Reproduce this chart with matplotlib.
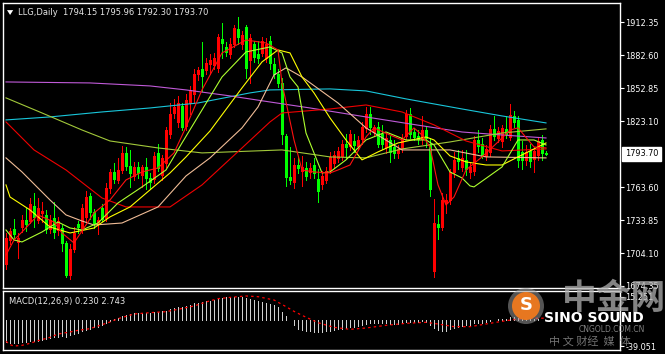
import numpy as np
import matplotlib
matplotlib.use("Agg")
import matplotlib.pyplot as plt
from matplotlib.patches import Circle
import matplotlib.transforms as mtransforms

plt.rcParams['font.family'] = ['DejaVu Sans', 'Noto Sans CJK SC']

# ---------------- data ----------------
opens = [1694, 1716, 1726, 1714, 1728, 1734, 1733, 1747, 1734, 1740,
         1738, 1726, 1736, 1725, 1727, 1713, 1684, 1708, 1730, 1727,
         1737, 1756, 1741, 1730, 1745, 1736, 1763, 1777, 1770, 1779,
         1794, 1783, 1774, 1782, 1775, 1782, 1772, 1771, 1794, 1775,
         1785, 1812, 1831, 1822, 1837, 1819, 1840, 1848, 1866, 1870,
         1869, 1875, 1874, 1871, 1897, 1890, 1884, 1893, 1906, 1893,
         1908, 1878, 1893, 1884, 1885, 1880, 1896, 1875, 1866, 1858,
         1810, 1773, 1768, 1784, 1778, 1781, 1777, 1784, 1771, 1766,
         1770, 1779, 1785, 1790, 1792, 1803, 1801, 1805, 1801, 1807,
         1817, 1830, 1813, 1818, 1812, 1800, 1806, 1800, 1794, 1799,
         1810, 1830, 1813, 1810, 1807, 1815, 1803, 1688, 1730, 1728,
         1749, 1752, 1777, 1790, 1782, 1788, 1777, 1778, 1806, 1803,
         1792, 1795, 1816, 1808, 1805, 1816, 1809, 1828, 1824, 1795,
         1788, 1796, 1789, 1793, 1806, 1794.15]
highs = [1722, 1727, 1735, 1722, 1738, 1745, 1754, 1758, 1754, 1750,
         1743, 1738, 1750, 1737, 1729, 1715, 1712, 1728, 1733, 1748,
         1760, 1758, 1744, 1737, 1748, 1767, 1780, 1785, 1790, 1801,
         1800, 1797, 1786, 1786, 1784, 1790, 1776, 1795, 1803, 1793,
         1818, 1840, 1843, 1846, 1840, 1848, 1855, 1870, 1872, 1895,
         1880, 1884, 1885, 1902, 1912, 1895, 1898, 1910, 1917, 1905,
         1910, 1902, 1896, 1896, 1899, 1898, 1900, 1880, 1870, 1862,
         1812, 1800, 1790, 1791, 1792, 1786, 1785, 1790, 1780, 1778,
         1782, 1795, 1796, 1800, 1806, 1812, 1815, 1812, 1810, 1822,
         1836, 1836, 1820, 1822, 1820, 1812, 1810, 1806, 1802, 1812,
         1833, 1835, 1817, 1815, 1828, 1818, 1808, 1753, 1738, 1758,
         1757, 1780, 1795, 1797, 1797, 1797, 1786, 1810, 1815, 1808,
         1802, 1820, 1828, 1818, 1820, 1828, 1839, 1832, 1828, 1805,
         1802, 1803, 1800, 1808, 1811, 1795.96]
lows = [1690, 1712, 1716, 1700, 1723, 1724, 1731, 1728, 1731, 1732,
        1722, 1722, 1718, 1720, 1706, 1682, 1681, 1705, 1722, 1722,
        1733, 1735, 1727, 1721, 1733, 1733, 1758, 1767, 1767, 1776,
        1779, 1764, 1770, 1772, 1764, 1762, 1763, 1767, 1778, 1770,
        1782, 1808, 1826, 1818, 1815, 1815, 1830, 1840, 1860, 1850,
        1866, 1866, 1870, 1868, 1880, 1882, 1880, 1890, 1893, 1888,
        1862, 1858, 1877, 1876, 1882, 1877, 1870, 1862, 1854, 1803,
        1765, 1766, 1763, 1776, 1765, 1770, 1772, 1772, 1750, 1762,
        1767, 1776, 1781, 1786, 1788, 1790, 1797, 1795, 1797, 1803,
        1813, 1812, 1810, 1800, 1798, 1794, 1786, 1790, 1790, 1795,
        1807, 1808, 1806, 1803, 1803, 1800, 1756, 1682, 1717, 1725,
        1740, 1748, 1773, 1780, 1778, 1775, 1772, 1775, 1795, 1790,
        1788, 1792, 1806, 1804, 1800, 1808, 1806, 1818, 1782, 1780,
        1784, 1782, 1777, 1788, 1788, 1792.30]
closes = [1718, 1724, 1721, 1718, 1734, 1730, 1748, 1737, 1745, 1742,
          1726, 1734, 1723, 1733, 1713, 1684, 1708, 1722, 1728, 1745,
          1755, 1741, 1731, 1734, 1735, 1763, 1777, 1771, 1779, 1794,
          1783, 1776, 1782, 1776, 1782, 1772, 1768, 1792, 1781, 1790,
          1815, 1830, 1836, 1840, 1818, 1842, 1851, 1866, 1869, 1864,
          1876, 1878, 1880, 1899, 1894, 1886, 1893, 1907, 1899, 1901,
          1871, 1898, 1881, 1880, 1896, 1893, 1876, 1866, 1858, 1812,
          1773, 1770, 1784, 1781, 1782, 1774, 1781, 1776, 1760, 1774,
          1778, 1791, 1793, 1796, 1803, 1800, 1812, 1802, 1806, 1818,
          1830, 1818, 1818, 1803, 1803, 1808, 1795, 1794, 1798, 1808,
          1830, 1812, 1809, 1807, 1815, 1808, 1762, 1731, 1728, 1752,
          1752, 1777, 1788, 1787, 1790, 1780, 1782, 1806, 1801, 1792,
          1798, 1816, 1810, 1814, 1817, 1812, 1829, 1822, 1788, 1788,
          1795, 1787, 1796, 1805, 1794, 1793.70]

# moving averages, read at sample bars
ma_cyan_x = [0, 11, 24, 36, 48, 61, 66, 81, 90, 100, 114, 124, 135]
ma_cyan = [1824.3, 1827.0, 1831.5, 1835.1, 1839.6, 1848.7, 1851.4, 1852.3,
           1850.5, 1843.3, 1834.2, 1827.9, 1821.6]
ma_purple_x = [0, 21, 36, 45, 56, 66, 76, 90, 101, 114, 124, 135]
ma_purple = [1858.6, 1857.7, 1855.0, 1851.4, 1846.0, 1840.5, 1835.1, 1827.0,
             1820.7, 1813.4, 1810.7, 1808.0]
ma_olive_x = [0, 9, 19, 26, 38, 49, 69, 81, 90, 99, 111, 124, 135]
ma_olive = [1844.2, 1830.6, 1815.2, 1805.3, 1799.0, 1794.5, 1797.2, 1790.9,
            1790.0, 1798.1, 1804.4, 1812.5, 1816.2]
ma_red_x = [0, 7, 15, 24, 30, 41, 49, 59, 66, 69, 81, 90, 99, 107, 115, 124, 135]
ma_red = [1822.5, 1797.2, 1779.1, 1753.8, 1745.7, 1745.7, 1765.6, 1799.0,
          1822.5, 1830.6, 1834.2, 1837.8, 1831.5, 1819.8, 1805.3, 1796.3, 1798.1]
ma_tan_x = [0, 4, 11, 15, 19, 22, 29, 38, 45, 51, 59, 63, 67, 70, 74, 83, 90,
            99, 111, 120, 135]
ma_tan = [1790.0, 1777.3, 1752.0, 1738.5, 1733.0, 1729.4, 1731.2, 1745.7,
          1773.7, 1790.0, 1817.1, 1836.0, 1864.9, 1871.3, 1863.1, 1839.6,
          1817.1, 1797.2, 1797.2, 1790.9, 1790.0]
ma_yellow_x = [0, 1, 6, 11, 16, 22, 26, 31, 36, 41, 45, 51, 59, 64, 68, 71, 74,
               77, 81, 85, 89, 93, 98, 105, 107, 111, 115, 120, 124, 128, 135]
ma_yellow = [1765.6, 1754.7, 1743.0, 1727.6, 1722.2, 1726.7, 1736.7, 1745.7,
             1761.1, 1776.4, 1790.9, 1814.3, 1853.2, 1876.7, 1887.5, 1884.8,
             1863.1, 1848.7, 1826.1, 1806.2, 1788.2, 1795.4, 1803.5, 1808.9,
             1806.2, 1791.8, 1786.4, 1783.6, 1783.6, 1790.9, 1803.5]
ma_lime_x = [0, 2, 4, 9, 13, 16, 19, 23, 28, 34, 40, 44, 49, 54, 60, 66, 69,
             71, 73, 75, 79, 81, 85, 90, 95, 100, 105, 107, 111, 114, 116, 117,
             124, 128, 132, 135]
ma_lime = [1724.9, 1715.9, 1714.1, 1723.1, 1732.1, 1726.7, 1724.9, 1731.2,
           1749.3, 1763.8, 1779.1, 1803.5, 1833.3, 1863.1, 1885.7, 1890.2,
           1884.8, 1863.1, 1854.1, 1812.5, 1776.4, 1777.3, 1788.2, 1806.2,
           1813.4, 1806.2, 1806.2, 1801.7, 1777.3, 1771.9, 1764.7, 1763.8,
           1781.8, 1806.2, 1806.2, 1801.7]
ma_fast_x = [0, 2, 4, 8, 12, 14, 17, 18, 22, 26, 30, 34, 38, 42, 45, 49, 54,
             60, 65, 68, 69, 72, 74, 77, 81, 83, 86, 90, 92, 96, 99, 102, 104,
             106, 108, 110, 112, 115, 119, 123, 126, 128, 132, 135]
ma_fast = [1702.3, 1715.9, 1723.1, 1738.5, 1732.1, 1722.2, 1713.2, 1718.6,
           1740.3, 1752.0, 1770.1, 1777.3, 1780.9, 1794.5, 1818.0, 1851.4,
           1884.8, 1896.5, 1893.8, 1887.5, 1857.7, 1806.2, 1779.1, 1777.3,
           1776.4, 1779.1, 1783.6, 1808.9, 1817.1, 1810.7, 1806.2, 1817.1,
           1810.7, 1799.9, 1765.6, 1747.5, 1754.7, 1779.1, 1790.9, 1804.4,
           1815.2, 1817.1, 1799.9, 1799.0]

# MACD(12,26,9): main (histogram) per bar, signal at sample bars
macd_main = [-33, -34, -34, -34, -33, -33, -32, -32, -31, -30,
             -29, -27, -26, -25, -24, -25, -23, -21, -19, -17,
             -15, -13, -11, -10, -8, -5, -2, 1, 3, 6,
             8, 9, 10, 10, 11, 11, 11, 12, 12, 13,
             14, 16, 18, 19, 20, 21, 23, 25, 26, 27,
             28, 29, 30, 32, 33, 34, 34, 35, 35, 35,
             33, 32, 30, 28, 27, 26, 24, 22, 20, 12,
             6, 0, -7, -13, -15, -16, -17, -18, -18, -18,
             -17, -16, -15, -14, -13, -12, -11, -10, -9, -8,
             -6, -5, -5, -5, -5, -5, -6, -6, -6, -5,
             -3, -3, -3, -3, -2, -3, -7, -12, -15, -16,
             -16, -14, -12, -10, -9, -8, -7, -5, -4, -4,
             -3, -1, 0, 1, 2, 2, 4, 5, 3, 2,
             2, 1, 1, 1, 0.5, 0.23]
macd_sig_x = [0, 1, 2, 4, 6, 8, 11, 13, 16, 18, 21, 23, 26, 28, 32, 36, 40,
              43, 47, 50, 53, 57, 60, 63, 67, 70, 72, 74, 78, 82, 86, 90, 95,
              100, 105, 108, 112, 116, 120, 124, 128, 132, 135]
macd_sig = [-32, -37, -39.051, -38, -35, -31, -26, -21, -18, -15.5, -13, -9,
            -3, 2, 9, 11, 12.5, 16, 21, 27, 32, 34.5, 36, 35, 30, 20, 13, 7,
            -4, -11, -14, -12, -8, -5, -3.5, -6, -10, -10, -6, -2, 1.5, 2.6,
            2.743]

price_ticks = [1912.35, 1882.60, 1852.85, 1823.10, 1763.60, 1733.85, 1704.10, 1674.35]
last_price = 1793.70

# ---------------- figure ----------------
W, H = 665, 354
fig = plt.figure(figsize=(W / 100, H / 100), dpi=100, facecolor='black')

def px_axes(x0, y0, x1, y1):
    return fig.add_axes([x0 / W, 1 - y1 / H, (x1 - x0) / W, (y1 - y0) / H])

ax = px_axes(3, 3, 620, 288)
ax2 = px_axes(3, 291, 620, 350)

n = len(closes)
idx = np.arange(n)
o = np.array(opens); c = np.array(closes); hi = np.array(highs); lo = np.array(lows)
up = c >= o
col = np.where(up, '#FF0000', '#00FF00')

for a in (ax, ax2):
    a.set_facecolor('black')
    for s in a.spines.values():
        s.set_color('white')
        s.set_linewidth(1.0)
    a.set_xlim(-0.75, 153.5)
    a.set_xticks([])
    a.yaxis.tick_right()
    a.tick_params(axis='y', colors='white', labelcolor='white', labelsize=5.9,
                  length=3, width=0.8, pad=0.8, direction='out')

# candles: 1px wicks, 3px bodies
ax.vlines(idx, lo, hi, colors=col, linewidth=0.72, antialiased=False, zorder=2)
b_lo = np.minimum(o, c)
b_hi = np.maximum(np.maximum(o, c), b_lo + 0.9)
ax.vlines(idx, b_lo, b_hi, colors=col, linewidth=2.16, antialiased=False,
          capstyle='butt', zorder=2)

# moving averages
lines = [(ma_cyan_x, ma_cyan, '#19C6DA'), (ma_purple_x, ma_purple, '#C05AD8'),
         (ma_olive_x, ma_olive, '#A2C83A'), (ma_red_x, ma_red, '#F00000'),
         (ma_tan_x, ma_tan, '#F0BC96'), (ma_yellow_x, ma_yellow, '#FFFF00'),
         (ma_lime_x, ma_lime, '#ADFF2F'), (ma_fast_x, ma_fast, '#FF1010')]
for xs, ys, cc in lines:
    ax.plot(xs, ys, color=cc, linewidth=0.8, zorder=3)

ax.set_ylim(1672.5, 1929.9)
ax.set_yticks(price_ticks)
ax.set_yticklabels(['%.2f' % v for v in price_ticks])

# current price box
trans = mtransforms.blended_transform_factory(ax.transAxes, ax.transData)
ax.text(1.008, last_price, '%.2f' % last_price, transform=trans, fontsize=5.9,
        color='black', va='center', ha='left', zorder=5,
        bbox=dict(facecolor='white', edgecolor='white', boxstyle='square,pad=0.3'))

ax.text(0.025, 0.965, 'LLG,Daily  1794.15 1795.96 1792.30 1793.70',
        transform=ax.transAxes, color='#E6E6E6', fontsize=6.0, va='center', ha='left')
ax.fill([0.0065, 0.0165, 0.0115], [0.975, 0.975, 0.958], transform=ax.transAxes,
        color='white', linewidth=0)

# MACD panel
ax2.vlines(idx, 0, macd_main, colors='#D0D0D0', linewidth=0.6, antialiased=False)
ax2.plot(macd_sig_x, macd_sig, color='#FF0000', linewidth=0.9, linestyle=(0, (2, 2.5)))
ax2.set_ylim(-45.0, 43.5)
ax2.set_yticks([34.9, -39.051])
ax2.set_yticklabels(['15.251', '-39.051'])
ax2.text(0.01, 0.83, 'MACD(12,26,9) 0.230 2.743', transform=ax2.transAxes,
         color='#E6E6E6', fontsize=6.0, va='center', ha='left')

# watermark overlay in pixel coordinates
ov = fig.add_axes([0, 0, 1, 1], facecolor='none', zorder=10)
ov.set_xlim(0, W); ov.set_ylim(H, 0); ov.axis('off')
ov.add_patch(Circle((526, 306), 18, facecolor='#9a9a9a', alpha=0.55, edgecolor='none'))
ov.add_patch(Circle((526, 306), 14, facecolor='#F07A1E', edgecolor='none', alpha=0.95))
ov.text(526, 305, 'S', color='white', fontsize=13, fontweight='bold',
        ha='center', va='center', family='DejaVu Sans')
ov.text(614, 298, '中金网', color='#B0B0B0', alpha=0.75, fontsize=25, fontweight='bold',
        ha='center', va='center', family=['Noto Sans CJK SC'])
ov.text(594, 318, 'SINO SOUND', color='white', fontsize=10, fontweight='bold',
        ha='center', va='center', family='DejaVu Sans')
ov.text(612, 329, 'CNGOLD.COM.CN', color='#A0A0A0', alpha=0.8, fontsize=5.5,
        ha='center', va='center')
ov.text(590, 341, '中 文 财经  媒  体', color='#A0A0A0', alpha=0.7, fontsize=8,
        ha='center', va='center', family=['Noto Sans CJK SC'])

fig.savefig('out.png', dpi=100, facecolor='black')
